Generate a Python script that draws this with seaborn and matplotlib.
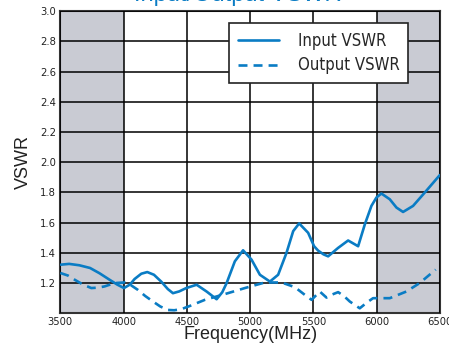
import matplotlib
matplotlib.use("Agg")
import matplotlib.pyplot as plt
from matplotlib.font_manager import FontProperties
import seaborn as sns
import pandas as pd

# Input VSWR curve (MHz, VSWR)
freq_in = [3505, 3570, 3650, 3735, 3810, 3893, 3950, 4003, 4050, 4087, 4140, 4187,
           4240, 4297, 4350, 4390, 4440, 4495, 4577, 4656, 4735, 4780, 4814, 4879,
           4944, 5011, 5077, 5156, 5221, 5287, 5340, 5387, 5458, 5505, 5537, 5580,
           5616, 5695, 5774, 5853, 5906, 5958, 5998, 6037, 6103, 6156, 6208, 6287,
           6380, 6498]
vswr_in = [1.322, 1.327, 1.318, 1.300, 1.265, 1.220, 1.190, 1.167, 1.190, 1.227, 1.262, 1.273,
           1.255, 1.210, 1.160, 1.133, 1.145, 1.167, 1.189, 1.144, 1.093, 1.140, 1.200, 1.344,
           1.417, 1.355, 1.255, 1.210, 1.255, 1.400, 1.544, 1.595, 1.533, 1.444, 1.415, 1.390,
           1.377, 1.433, 1.482, 1.444, 1.589, 1.711, 1.767, 1.793, 1.755, 1.700, 1.671, 1.711,
           1.800, 1.915]

# Output VSWR curve (MHz, VSWR)
freq_out = [3500, 3560, 3614, 3680, 3745, 3800, 3850, 3930, 4008, 4060, 4113, 4170,
            4232, 4290, 4350, 4400, 4455, 4525, 4642, 4800, 4958, 5116, 5248, 5353,
            5432, 5485, 5550, 5603, 5650, 5695, 5740, 5787, 5866, 5920, 5971, 6030,
            6103, 6234, 6339, 6410, 6466]
vswr_out = [1.267, 1.250, 1.222, 1.190, 1.167, 1.170, 1.178, 1.200, 1.204, 1.185, 1.155, 1.115,
            1.078, 1.045, 1.022, 1.020, 1.027, 1.049, 1.089, 1.127, 1.167, 1.204, 1.204, 1.173,
            1.122, 1.089, 1.144, 1.104, 1.125, 1.140, 1.115, 1.078, 1.033, 1.070, 1.100, 1.100,
            1.100, 1.144, 1.200, 1.250, 1.289]

x_ticks = [3500, 4000, 4500, 5000, 5500, 6000, 6500]
y_ticks = [1.2, 1.4, 1.6, 1.8, 2.0, 2.2, 2.4, 2.6, 2.8, 3.0]
shaded_bands = [(3500, 4000), (6000, 6500)]

BLUE = "#0a7cc4"
GRAY = "#c9cbd3"

sns.set_theme(style="white")
plt.rcParams["font.family"] = ["Liberation Sans", "DejaVu Sans"]

fig = plt.figure(figsize=(4.49, 3.52), dpi=100)
ax = fig.add_axes([0.1343, 0.110, 0.8457, 0.858])

for lo, hi in shaded_bands:
    ax.axvspan(lo, hi, color=GRAY, lw=0, zorder=0)

df_in = pd.DataFrame({"Frequency": freq_in, "VSWR": vswr_in})
df_out = pd.DataFrame({"Frequency": freq_out, "VSWR": vswr_out})

sns.lineplot(data=df_in, x="Frequency", y="VSWR", ax=ax, color=BLUE, lw=1.9,
             label="Input VSWR", zorder=3, solid_joinstyle="round", solid_capstyle="round")
sns.lineplot(data=df_out, x="Frequency", y="VSWR", ax=ax, color=BLUE, lw=1.9,
             linestyle=(0, (3.4, 2.3)), label="Output VSWR", zorder=3,
             dash_joinstyle="round")

ax.set_xlim(3500, 6500)
ax.set_ylim(1.0, 3.0)
ax.set_xticks(x_ticks)
ax.set_yticks(y_ticks)
ax.set_xticklabels([str(t) for t in x_ticks])
ax.set_yticklabels([f"{t:.1f}" for t in y_ticks])

ax.grid(True, color="black", lw=1.1, zorder=1)
ax.set_axisbelow(False)
for s in ax.spines.values():
    s.set_color("#333333")
    s.set_linewidth(1.5)

tick_fp = FontProperties(family="DejaVu Sans", stretch="condensed", size=8)
for lab in ax.get_xticklabels() + ax.get_yticklabels():
    lab.set_fontproperties(tick_fp)
    lab.set_color("#222222")
ax.tick_params(axis="both", length=0, pad=3)

ax.set_xlabel("Frequency(MHz)", fontsize=13, color="#222222", labelpad=-1)
ax.set_ylabel("VSWR", fontsize=13, color="#222222", labelpad=6)

leg_fp = FontProperties(family="DejaVu Sans", stretch="condensed", size=12)
leg = ax.legend(loc="upper right", bbox_to_anchor=(0.915, 0.96), frameon=True,
                fancybox=False, framealpha=1, edgecolor="#222222", prop=leg_fp,
                handlelength=2.5, handletextpad=1.1, borderpad=0.5,
                labelspacing=0.4, borderaxespad=0)
leg.get_frame().set_linewidth(1.2)
leg.set_zorder(5)

fig.text(0.53, 1 - 0.8 / 352, "Input/Output VSWR", color=BLUE, fontsize=17,
         ha="center", va="baseline")

fig.savefig("out.png", dpi=100)
